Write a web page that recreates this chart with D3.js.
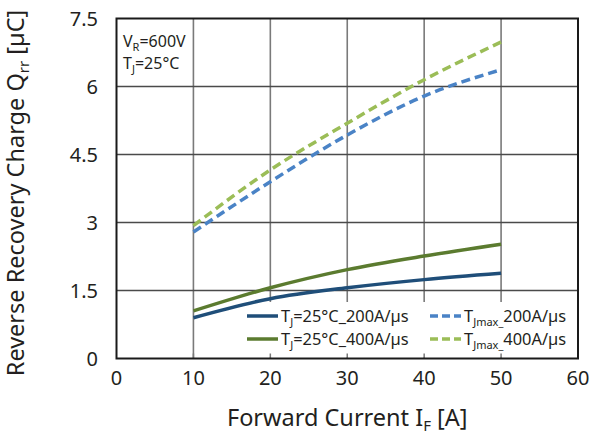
<!DOCTYPE html>
<html>
<head>
<meta charset="utf-8">
<script src="https://cdn.jsdelivr.net/npm/d3@7"></script>
<style>
  body { margin: 0; background: #fff; }
  text { font-family: "Noto Sans", "Open Sans", sans-serif; fill: #231f20; }
</style>
</head>
<body>
<div id="plot"></div>
<script>
let width = 592;
let height = 434;

// data
let current = [10, 20, 30, 40, 50];
let qrr25_200 = [0.90, 1.32, 1.56, 1.74, 1.88];
let qrr25_400 = [1.05, 1.56, 1.96, 2.26, 2.52];
let qrrMax_200 = [2.79, 3.90, 4.93, 5.79, 6.37];
let qrrMax_400 = [2.93, 4.16, 5.19, 6.15, 6.98];
let xTicks = [0, 10, 20, 30, 40, 50, 60];
let yTicks = [0, 1.5, 3, 4.5, 6, 7.5];

let padLeft = 116.5, padRight = 578, padTop = 18.5, padBottom = 358.5;

let svg = d3.select("#plot")
    .append("svg")
    .attr("width", width)
    .attr("height", height);

let x = d3.scaleLinear().domain([0, 60]).range([padLeft, padRight]);
let y = d3.scaleLinear().domain([0, 7.5]).range([padBottom, padTop]);

// grid
svg.append("g").selectAll("line")
    .data(xTicks.slice(1, -1))
    .join("line")
    .attr("x1", d => x(d)).attr("x2", d => x(d))
    .attr("y1", padTop).attr("y2", padBottom)
    .attr("stroke", "#7a7a7a").attr("stroke-width", 1.6);

svg.append("g").selectAll("line")
    .data(yTicks.slice(1, -1))
    .join("line")
    .attr("x1", padLeft).attr("x2", padRight)
    .attr("y1", d => y(d)).attr("y2", d => y(d))
    .attr("stroke", "#4a4a4a").attr("stroke-width", 1.5);

// legend background sits over the grid, under the curves
let legend = svg.append("g");
legend.append("rect")
    .attr("x", 240).attr("y", 302)
    .attr("width", padRight - 241).attr("height", padBottom - 303)
    .attr("fill", "#fff");

// series
let series = [
    { values: qrr25_200, color: "#1f4e79", dash: null },
    { values: qrr25_400, color: "#5b7b2f", dash: null },
    { values: qrrMax_200, color: "#4a83c6", dash: "9,5" },
    { values: qrrMax_400, color: "#9bbd57", dash: "9,5" }
];

let line = d3.line()
    .x(d => x(d[0]))
    .y(d => y(d[1]))
    .curve(d3.curveMonotoneX);

series.forEach(s => {
    svg.append("path")
        .datum(current.map((c, i) => [c, s.values[i]]))
        .attr("d", line)
        .attr("fill", "none")
        .attr("stroke", s.color)
        .attr("stroke-width", 3.5)
        .attr("stroke-dasharray", s.dash);
});

let legendItems = [
    { sub: "J", rest: "=25°C_200A/µs", color: "#1f4e79", dash: null, lx: 247, ly: 316 },
    { sub: "J", rest: "=25°C_400A/µs", color: "#5b7b2f", dash: null, lx: 247, ly: 339 },
    { sub: "Jmax_", rest: "200A/µs", color: "#4a83c6", dash: "8,4", lx: 430, ly: 316 },
    { sub: "Jmax_", rest: "400A/µs", color: "#9bbd57", dash: "8,4", lx: 430, ly: 339 }
];

legendItems.forEach(d => {
    let g = svg.append("g");
    g.append("line")
        .attr("x1", d.lx).attr("x2", d.lx + 31)
        .attr("y1", d.ly).attr("y2", d.ly)
        .attr("stroke", d.color).attr("stroke-width", 3.5)
        .attr("stroke-dasharray", d.dash);
    let t = g.append("text")
        .attr("x", d.lx + 34).attr("y", d.ly + 6)
        .style("font-size", "16.4px");
    t.append("tspan").text("T");
    t.append("tspan").attr("dy", 4).style("font-size", "11px").text(d.sub);
    t.append("tspan").attr("dy", -4).text(d.rest);
});

// ticks
svg.append("g").selectAll("line")
    .data(xTicks.slice(1, -1))
    .join("line")
    .attr("x1", d => x(d)).attr("x2", d => x(d))
    .attr("y1", padBottom).attr("y2", padBottom - 5)
    .attr("stroke", "#7a7a7a").attr("stroke-width", 1.5);

// frame
svg.append("rect")
    .attr("x", padLeft).attr("y", padTop)
    .attr("width", padRight - padLeft).attr("height", padBottom - padTop)
    .attr("fill", "none")
    .attr("stroke", "#1a1a1a")
    .attr("stroke-width", 2);

// tick labels
svg.append("g").selectAll("text")
    .data(xTicks)
    .join("text")
    .attr("x", d => x(d))
    .attr("y", 385)
    .attr("text-anchor", "middle")
    .style("font-size", "20px")
    .text(d => d);

svg.append("g").selectAll("text")
    .data(yTicks)
    .join("text")
    .attr("x", 98)
    .attr("y", d => y(d) + 7)
    .attr("text-anchor", "end")
    .style("font-size", "20px")
    .text(d => d);

// annotation
let ann1 = svg.append("text").attr("x", 123).attr("y", 47).style("font-size", "16px");
ann1.append("tspan").text("V");
ann1.append("tspan").attr("dy", 4).style("font-size", "11px").text("R");
ann1.append("tspan").attr("dy", -4).text("=600V");

let ann2 = svg.append("text").attr("x", 123).attr("y", 69).style("font-size", "16px");
ann2.append("tspan").text("T");
ann2.append("tspan").attr("dy", 4).style("font-size", "11px").text("J");
ann2.append("tspan").attr("dy", -4).text("=25°C");

// axis titles
let xTitle = svg.append("text")
    .attr("x", (padLeft + padRight) / 2)
    .attr("y", 426)
    .attr("text-anchor", "middle")
    .style("font-size", "23.5px");
xTitle.append("tspan").text("Forward Current I");
xTitle.append("tspan").attr("dy", 5).style("font-size", "15px").text("F");
xTitle.append("tspan").attr("dy", -5).text(" [A]");

let yc = { x: 24, y: 193 };
let yTitle = svg.append("text")
    .attr("x", yc.x)
    .attr("y", yc.y)
    .attr("text-anchor", "middle")
    .attr("transform", "rotate(-90," + yc.x + "," + yc.y + ")")
    .style("font-size", "23.5px");
yTitle.append("tspan").text("Reverse Recovery Charge Q");
yTitle.append("tspan").attr("dy", 5).style("font-size", "15px").text("rr");
yTitle.append("tspan").attr("dy", -5).text(" [µC]");
</script>
</body>
</html>
